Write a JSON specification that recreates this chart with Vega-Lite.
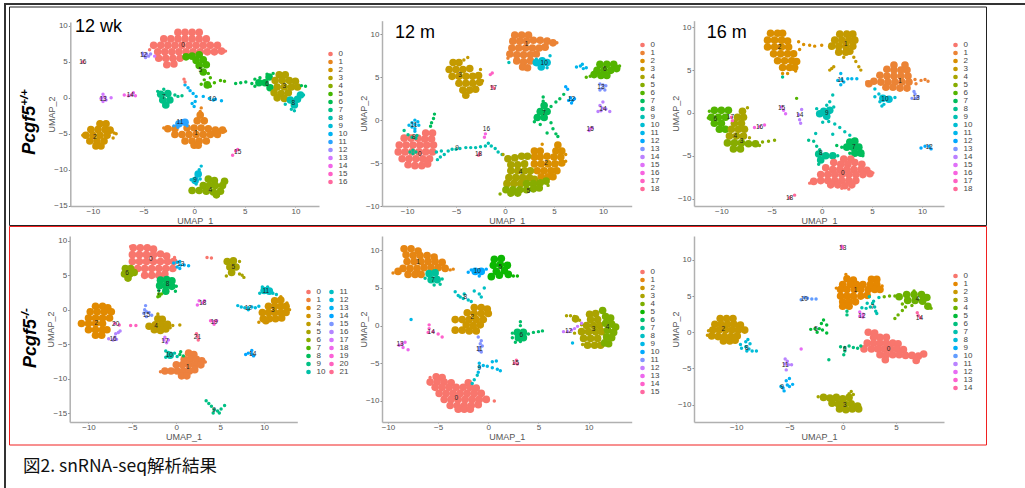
{"$schema":"https://vega.github.io/schema/vega-lite/v6.json","width":1025,"height":488,"autosize":"none","padding":0,"background":"white",
"config":{"view":{"stroke":null},"font":"Liberation Sans","axis":{"grid":false,"domainColor":"#b0b0b0","domainWidth":1.5,"tickColor":"#888888","tickSize":2,"labelFontSize":8,"labelColor":"#555555","labelPadding":1,"labelOverlap":false,"labelBound":false,"labelFlush":false,"titleFontSize":9,"titleColor":"#555555","titleFontWeight":"normal"},"axisX":{"tickSize":1,"labelPadding":0,"titleY":10},"axisY":{"titleX":-14},"legend":{"padding":0,"symbolSize":22,"symbolType":"circle","labelFontSize":8,"labelColor":"#444444","rowPadding":-0.28,"labelOffset":4,"columnPadding":2,"symbolStrokeWidth":0}},
"datasets":{
"frame":[{"left":0,"right":1,"bottom":0,"top":1}],
"a":[{"c":0,"x":-1.6,"y":9.1},{"c":0,"x":-0.9,"y":9.1},{"c":0,"x":-0.2,"y":9.1},{"c":0,"x":0.5,"y":9.1},{"c":0,"x":-3,"y":8.2},{"c":0,"x":-2.3,"y":8.2},{"c":0,"x":-1.6,"y":8.2},{"c":0,"x":-0.9,"y":8.2},{"c":0,"x":-0.2,"y":8.2},{"c":0,"x":0.5,"y":8.2},{"c":0,"x":1.2,"y":8.2},{"c":0,"x":-4,"y":7.3},{"c":0,"x":-3.3,"y":7.3},{"c":0,"x":-2.6,"y":7.3},{"c":0,"x":-1.9,"y":7.3},{"c":0,"x":-1.2,"y":7.3},{"c":0,"x":-0.5,"y":7.3},{"c":0,"x":0.2,"y":7.3},{"c":0,"x":0.9,"y":7.3},{"c":0,"x":1.6,"y":7.3},{"c":0,"x":2.3,"y":7.3},{"c":0,"x":-3.6,"y":6.4},{"c":0,"x":-2.9,"y":6.4},{"c":0,"x":-2.2,"y":6.4},{"c":0,"x":-1.5,"y":6.4},{"c":0,"x":-0.8,"y":6.4},{"c":0,"x":-0.1,"y":6.4},{"c":0,"x":0.6,"y":6.4},{"c":0,"x":1.3,"y":6.4},{"c":0,"x":2,"y":6.4},{"c":0,"x":2.7,"y":6.5},{"c":0,"x":-3.5,"y":5.5},{"c":0,"x":-2.8,"y":5.5},{"c":0,"x":-2.1,"y":5.5},{"c":0,"x":-1.4,"y":5.5},{"c":0,"x":-2.7,"y":4.6},{"c":0,"x":-2,"y":4.7},{"c":5,"x":-0.8,"y":5.7},{"c":5,"x":-0.2,"y":5.8},{"c":5,"x":0.5,"y":6},{"c":5,"x":0.2,"y":5.2},{"c":5,"x":0.9,"y":5.3},{"c":5,"x":0.5,"y":4.5},{"c":5,"x":1.2,"y":4.6},{"c":5,"x":0.9,"y":3.6},{"c":5,"x":1.3,"y":1.8},{"c":3,"x":8.4,"y":3.2},{"c":3,"x":9,"y":3.2},{"c":6,"x":7,"y":2.1},{"c":6,"x":6.4,"y":2.1},{"c":6,"x":7.4,"y":2.9},{"c":6,"x":7.5,"y":1.4},{"c":3,"x":8,"y":2.4},{"c":3,"x":8.7,"y":2.4},{"c":3,"x":9.4,"y":2.4},{"c":3,"x":10,"y":2.3},{"c":3,"x":8.2,"y":1.5},{"c":3,"x":8.9,"y":1.5},{"c":3,"x":9.6,"y":1.5},{"c":3,"x":10.2,"y":1.5},{"c":3,"x":7.9,"y":0.7},{"c":3,"x":8.6,"y":0.6},{"c":3,"x":9.3,"y":0.7},{"c":3,"x":8.2,"y":0},{"c":3,"x":8.9,"y":-0.1},{"c":8,"x":9.5,"y":-0.3},{"c":8,"x":10.2,"y":-0.2},{"c":8,"x":9.9,"y":-1},{"c":8,"x":10.5,"y":0.4},{"c":7,"x":-3.3,"y":0.5},{"c":7,"x":-2.6,"y":0.6},{"c":7,"x":-3.1,"y":-0.3},{"c":7,"x":-2.4,"y":-0.3},{"c":7,"x":-2.8,"y":-1},{"c":9,"x":0.4,"y":-10.6},{"c":9,"x":0.1,"y":-11.5},{"c":4,"x":1.4,"y":-11.3},{"c":4,"x":2,"y":-11.5},{"c":4,"x":3,"y":-11.6},{"c":4,"x":0.9,"y":-12.2},{"c":4,"x":1.5,"y":-12.2},{"c":4,"x":2.1,"y":-12.2},{"c":4,"x":2.8,"y":-12.2},{"c":4,"x":-0.2,"y":-12.9},{"c":4,"x":0.5,"y":-12.9},{"c":4,"x":1.2,"y":-13},{"c":4,"x":1.9,"y":-13.1},{"c":4,"x":2.6,"y":-13},{"c":4,"x":2.2,"y":-13.5},{"c":1,"x":0.6,"y":-2.4},{"c":1,"x":0.3,"y":-3.2},{"c":1,"x":1,"y":-3.2},{"c":1,"x":-2.6,"y":-4.3},{"c":1,"x":-1.9,"y":-4.3},{"c":1,"x":-0.7,"y":-4.2},{"c":1,"x":0,"y":-4.2},{"c":1,"x":0.7,"y":-4.2},{"c":1,"x":1.4,"y":-4.3},{"c":1,"x":2.1,"y":-4.5},{"c":1,"x":2.8,"y":-4.5},{"c":1,"x":-1.9,"y":-5.1},{"c":1,"x":-1.2,"y":-5.1},{"c":1,"x":-0.5,"y":-5.1},{"c":1,"x":0.2,"y":-5.1},{"c":1,"x":0.9,"y":-5.1},{"c":1,"x":1.6,"y":-5.1},{"c":1,"x":2.3,"y":-5.1},{"c":1,"x":-0.9,"y":-6},{"c":1,"x":-0.2,"y":-6},{"c":1,"x":0.5,"y":-6},{"c":1,"x":1.2,"y":-6},{"c":1,"x":0,"y":-6.6},{"c":1,"x":0.4,"y":-6.6},{"c":11,"x":-1.5,"y":-3.6},{"c":11,"x":-0.9,"y":-3.4},{"c":2,"x":-9.3,"y":-3.6},{"c":2,"x":-8.7,"y":-3.6},{"c":2,"x":-10.2,"y":-4.4},{"c":2,"x":-9.5,"y":-4.4},{"c":2,"x":-8.8,"y":-4.4},{"c":2,"x":-8.3,"y":-4.5},{"c":2,"x":-10.7,"y":-5.2},{"c":2,"x":-10,"y":-5.2},{"c":2,"x":-9.3,"y":-5.2},{"c":2,"x":-8.6,"y":-5.2},{"c":2,"x":-10.3,"y":-6},{"c":2,"x":-9.6,"y":-6},{"c":2,"x":-8.9,"y":-6},{"c":2,"x":-9.7,"y":-6.7},{"c":2,"x":-9.2,"y":-6.7}],
"as":[{"c":12,"x":-5,"y":5.9},{"c":12,"x":-4.7,"y":6.1},{"c":12,"x":-4.5,"y":5.8},{"c":12,"x":-4.8,"y":5.6},{"c":12,"x":-4.3,"y":6.1},{"c":12,"x":-5.1,"y":6.2},{"c":13,"x":-3.9,"y":5.8},{"c":0,"x":-4.4,"y":6.7},{"c":0,"x":3.1,"y":6.5},{"c":5,"x":1.4,"y":3.4},{"c":5,"x":1.6,"y":2.8},{"c":5,"x":1,"y":2.5},{"c":5,"x":2,"y":2.1},{"c":5,"x":1.6,"y":1.6},{"c":5,"x":2.6,"y":2.4},{"c":5,"x":3,"y":2.3},{"c":5,"x":0.7,"y":1.9},{"c":6,"x":4.1,"y":2},{"c":6,"x":4.6,"y":2.1},{"c":6,"x":5.1,"y":2.2},{"c":6,"x":5.7,"y":2},{"c":6,"x":6,"y":2.6},{"c":6,"x":6.5,"y":2.8},{"c":6,"x":6,"y":1.6},{"c":6,"x":7.2,"y":3.3},{"c":6,"x":7.8,"y":3.4},{"c":6,"x":10.6,"y":1.7},{"c":6,"x":11,"y":1.6},{"c":8,"x":9.6,"y":-1.6},{"c":8,"x":9.9,"y":-1.8},{"c":8,"x":10.8,"y":0.4},{"c":8,"x":9,"y":-0.9},{"c":7,"x":-3.6,"y":0.9},{"c":7,"x":-3,"y":1.2},{"c":7,"x":-1.9,"y":0.4},{"c":7,"x":-1.6,"y":0.2},{"c":7,"x":-1.2,"y":0.3},{"c":10,"x":-0.9,"y":1.8},{"c":10,"x":-0.6,"y":1.4},{"c":10,"x":-0.4,"y":1},{"c":10,"x":-0.1,"y":0.6},{"c":10,"x":0.2,"y":0.2},{"c":10,"x":0.1,"y":-0.5},{"c":10,"x":0,"y":-1.2},{"c":10,"x":-0.2,"y":-0.8},{"c":10,"x":0.9,"y":0.2},{"c":10,"x":1.5,"y":-0.1},{"c":10,"x":2.1,"y":-0.2},{"c":10,"x":2.7,"y":-0.4},{"c":10,"x":1.9,"y":-0.3},{"c":0,"x":-1,"y":2.6},{"c":0,"x":-0.9,"y":2.2},{"c":9,"x":0.7,"y":-9.5},{"c":9,"x":0.5,"y":-10},{"c":9,"x":0.2,"y":-11},{"c":9,"x":0.2,"y":-12},{"c":9,"x":-0.3,"y":-11.4},{"c":9,"x":0.6,"y":-11.3},{"c":11,"x":-2,"y":-3.9},{"c":11,"x":-1.6,"y":-4.1},{"c":11,"x":-1.2,"y":-3.2},{"c":11,"x":-0.7,"y":-3.9},{"c":1,"x":0.7,"y":-1.4},{"c":1,"x":0.6,"y":-1.9},{"c":1,"x":-3,"y":-4.2},{"c":1,"x":3.1,"y":-4.6},{"c":2,"x":-7.9,"y":-4.9},{"c":2,"x":-8,"y":-5.6},{"c":2,"x":-7.7,"y":-5},{"c":2,"x":-11,"y":-5.2},{"c":13,"x":-9,"y":0.5},{"c":13,"x":-9.1,"y":0},{"c":13,"x":-8.8,"y":0.1},{"c":13,"x":-9,"y":-0.5},{"c":13,"x":-8.7,"y":-0.3},{"c":13,"x":-8.2,"y":0},{"c":13,"x":-9.2,"y":-0.1},{"c":14,"x":-6.9,"y":0.4},{"c":14,"x":-6.5,"y":0.3},{"c":14,"x":-6.2,"y":0.4},{"c":14,"x":-6,"y":0.7},{"c":14,"x":-5.8,"y":0.3},{"c":15,"x":4.1,"y":-7.4},{"c":15,"x":4.3,"y":-7.2},{"c":15,"x":3.8,"y":-8},{"c":16,"x":-11,"y":5}],
"b":[{"c":1,"x":1,"y":9.9},{"c":1,"x":1.7,"y":9.9},{"c":1,"x":2.4,"y":9.9},{"c":1,"x":0.8,"y":9.2},{"c":1,"x":1.5,"y":9.2},{"c":1,"x":2.2,"y":9.2},{"c":1,"x":2.9,"y":9.3},{"c":1,"x":3.6,"y":9.3},{"c":1,"x":4.3,"y":9.2},{"c":1,"x":4.9,"y":9},{"c":1,"x":0.7,"y":8.4},{"c":1,"x":1.4,"y":8.4},{"c":1,"x":2.1,"y":8.4},{"c":1,"x":2.8,"y":8.4},{"c":1,"x":3.5,"y":8.4},{"c":1,"x":4.1,"y":8.5},{"c":1,"x":0.5,"y":7.7},{"c":1,"x":1.2,"y":7.6},{"c":1,"x":1.9,"y":7.6},{"c":1,"x":2.6,"y":7.6},{"c":1,"x":3.2,"y":7.7},{"c":1,"x":1.2,"y":6.9},{"c":1,"x":1.9,"y":6.8},{"c":1,"x":2.6,"y":6.9},{"c":1,"x":1.8,"y":6.2},{"c":1,"x":2.3,"y":6.1},{"c":10,"x":3.2,"y":6.7},{"c":10,"x":3.8,"y":6.9},{"c":10,"x":4.3,"y":6.7},{"c":10,"x":3.7,"y":6.2},{"c":3,"x":-5.3,"y":6.7},{"c":3,"x":-4.7,"y":6.7},{"c":3,"x":-5.7,"y":5.9},{"c":3,"x":-5,"y":5.9},{"c":3,"x":-4.3,"y":5.9},{"c":3,"x":-3.6,"y":6},{"c":3,"x":-5.4,"y":5.1},{"c":3,"x":-4.7,"y":5.1},{"c":3,"x":-4,"y":5.1},{"c":3,"x":-3.3,"y":5.1},{"c":3,"x":-2.7,"y":5.2},{"c":3,"x":-4.7,"y":4.3},{"c":3,"x":-4,"y":4.3},{"c":3,"x":-3.3,"y":4.3},{"c":3,"x":-2.6,"y":4.4},{"c":3,"x":-4.3,"y":3.5},{"c":3,"x":-3.6,"y":3.5},{"c":3,"x":-3,"y":3.6},{"c":3,"x":-4,"y":2.9},{"c":6,"x":9.7,"y":6.5},{"c":6,"x":10.4,"y":6.5},{"c":6,"x":11.1,"y":6.5},{"c":6,"x":9.4,"y":5.8},{"c":6,"x":10.1,"y":5.8},{"c":6,"x":10.8,"y":5.8},{"c":6,"x":11.4,"y":6},{"c":6,"x":9.1,"y":5.3},{"c":6,"x":9.8,"y":5.2},{"c":6,"x":10.4,"y":5.2},{"c":7,"x":4,"y":1.7},{"c":7,"x":3.6,"y":1},{"c":7,"x":4.3,"y":1},{"c":7,"x":3.3,"y":0.3},{"c":7,"x":4,"y":0.3},{"c":0,"x":-8.1,"y":-1.5},{"c":0,"x":-7.4,"y":-1.5},{"c":0,"x":-10.3,"y":-2.1},{"c":0,"x":-9.6,"y":-2.1},{"c":0,"x":-8.9,"y":-2.1},{"c":0,"x":-8.2,"y":-2.2},{"c":0,"x":-7.5,"y":-2.2},{"c":0,"x":-10.8,"y":-2.9},{"c":0,"x":-10.1,"y":-2.9},{"c":0,"x":-9.4,"y":-2.9},{"c":0,"x":-8.7,"y":-2.9},{"c":0,"x":-8,"y":-2.9},{"c":0,"x":-7.3,"y":-2.9},{"c":0,"x":-10.9,"y":-3.7},{"c":0,"x":-10.2,"y":-3.7},{"c":0,"x":-9.5,"y":-3.7},{"c":0,"x":-8.8,"y":-3.7},{"c":0,"x":-8.1,"y":-3.7},{"c":0,"x":-7.4,"y":-3.7},{"c":0,"x":-10.5,"y":-4.5},{"c":0,"x":-9.8,"y":-4.5},{"c":0,"x":-9.1,"y":-4.5},{"c":0,"x":-8.4,"y":-4.5},{"c":0,"x":-7.7,"y":-4.5},{"c":0,"x":-9.9,"y":-5.2},{"c":0,"x":-9.2,"y":-5.3},{"c":0,"x":-8.5,"y":-5.3},{"c":0,"x":-7.9,"y":-5.1},{"c":2,"x":5.4,"y":-2.9},{"c":2,"x":3,"y":-3.6},{"c":2,"x":3.6,"y":-3.6},{"c":2,"x":5.2,"y":-3.6},{"c":2,"x":5.8,"y":-3.6},{"c":2,"x":3,"y":-4.3},{"c":2,"x":3.6,"y":-4.3},{"c":2,"x":4.3,"y":-4.2},{"c":2,"x":5,"y":-4.3},{"c":2,"x":5.7,"y":-4.3},{"c":2,"x":3,"y":-5.1},{"c":2,"x":3.7,"y":-5.1},{"c":2,"x":4.4,"y":-5.1},{"c":2,"x":5.1,"y":-5.1},{"c":2,"x":5.8,"y":-5},{"c":2,"x":3.3,"y":-5.9},{"c":2,"x":4,"y":-5.9},{"c":2,"x":4.7,"y":-5.9},{"c":2,"x":5.3,"y":-5.9},{"c":2,"x":3.7,"y":-6.6},{"c":2,"x":4.4,"y":-6.6},{"c":2,"x":4.9,"y":-6.6},{"c":4,"x":0.3,"y":-4.5},{"c":4,"x":1,"y":-4.4},{"c":4,"x":1.7,"y":-4.2},{"c":4,"x":2.3,"y":-4.2},{"c":4,"x":0.6,"y":-5.2},{"c":4,"x":1.3,"y":-5.2},{"c":4,"x":2,"y":-5.1},{"c":4,"x":0.6,"y":-5.9},{"c":4,"x":1.3,"y":-5.9},{"c":4,"x":2,"y":-5.9},{"c":4,"x":2.6,"y":-5.9},{"c":4,"x":0.4,"y":-6.7},{"c":4,"x":1.1,"y":-6.7},{"c":4,"x":1.8,"y":-6.7},{"c":4,"x":2.5,"y":-6.7},{"c":4,"x":3,"y":-6.9},{"c":4,"x":0.2,"y":-7.4},{"c":4,"x":0.9,"y":-7.4},{"c":4,"x":1.6,"y":-7.4},{"c":5,"x":2.2,"y":-7.4},{"c":5,"x":2.9,"y":-7.4},{"c":5,"x":3.6,"y":-7.3},{"c":5,"x":4.2,"y":-7.1},{"c":5,"x":0.1,"y":-8.1},{"c":5,"x":0.8,"y":-8.1},{"c":5,"x":1.5,"y":-8.1},{"c":5,"x":2.2,"y":-8.1},{"c":5,"x":2.9,"y":-8},{"c":5,"x":3.5,"y":-7.9},{"c":5,"x":0.6,"y":-8.5},{"c":5,"x":1.3,"y":-8.5}],
"bs":[{"c":1,"x":5.3,"y":9},{"c":1,"x":0.3,"y":7.2},{"c":9,"x":0.4,"y":6.7},{"c":10,"x":4.6,"y":7.5},{"c":10,"x":3.2,"y":7.1},{"c":10,"x":4.3,"y":6.1},{"c":3,"x":-4.2,"y":7},{"c":3,"x":-3.8,"y":7.3},{"c":3,"x":-2.5,"y":5.9},{"c":3,"x":-2.3,"y":4.6},{"c":6,"x":8.7,"y":5.1},{"c":6,"x":8.3,"y":5},{"c":6,"x":11.7,"y":6.3},{"c":11,"x":7.3,"y":6.2},{"c":11,"x":7.7,"y":6.3},{"c":11,"x":8,"y":6},{"c":11,"x":8.3,"y":6.1},{"c":11,"x":7.9,"y":6.5},{"c":13,"x":9.7,"y":4.2},{"c":13,"x":10,"y":4.1},{"c":13,"x":10.3,"y":4},{"c":13,"x":9.9,"y":3.7},{"c":13,"x":10.2,"y":3.5},{"c":13,"x":9.7,"y":3.5},{"c":14,"x":9.7,"y":1.7},{"c":14,"x":10,"y":1.4},{"c":14,"x":10.3,"y":1.3},{"c":14,"x":10.7,"y":1},{"c":14,"x":9.5,"y":1},{"c":14,"x":9.8,"y":1.1},{"c":14,"x":10,"y":2.1},{"c":12,"x":6.7,"y":2.6},{"c":12,"x":6.9,"y":2.3},{"c":12,"x":6.5,"y":2.3},{"c":12,"x":7.1,"y":2.5},{"c":12,"x":6.8,"y":2},{"c":12,"x":6.4,"y":3.6},{"c":12,"x":6.2,"y":3.9},{"c":15,"x":8.7,"y":-1},{"c":15,"x":8.9,"y":-0.9},{"c":15,"x":8.6,"y":-1.2},{"c":7,"x":3.9,"y":2.7},{"c":7,"x":3.9,"y":2.2},{"c":7,"x":4.7,"y":1.6},{"c":7,"x":5.2,"y":2.1},{"c":7,"x":5.6,"y":2.5},{"c":7,"x":6,"y":3},{"c":7,"x":3,"y":-0.2},{"c":7,"x":3.6,"y":-0.5},{"c":7,"x":4.7,"y":-0.3},{"c":7,"x":4.9,"y":-1},{"c":7,"x":5.2,"y":-1.6},{"c":7,"x":5.4,"y":-1.9},{"c":7,"x":4.3,"y":-1.5},{"c":7,"x":-7.2,"y":0.7},{"c":7,"x":-7.3,"y":0.2},{"c":7,"x":-7.5,"y":-0.3},{"c":7,"x":-7.6,"y":-0.7},{"c":16,"x":-2,"y":-1.6},{"c":16,"x":-2.1,"y":-2},{"c":17,"x":-1.3,"y":5.5},{"c":17,"x":-1.5,"y":5.3},{"c":18,"x":-1.3,"y":3.9},{"c":18,"x":-1.1,"y":3.7},{"c":9,"x":-7,"y":-3.7},{"c":9,"x":-6.5,"y":-3.6},{"c":9,"x":-6.2,"y":-4},{"c":9,"x":-5.8,"y":-3.6},{"c":9,"x":-5.4,"y":-3.4},{"c":9,"x":-5,"y":-3.4},{"c":9,"x":-4.6,"y":-3.3},{"c":9,"x":-6.6,"y":-4.3},{"c":9,"x":-6.9,"y":-4.6},{"c":9,"x":-4,"y":-3.2},{"c":9,"x":-3.5,"y":-3.2},{"c":9,"x":-3,"y":-3.2},{"c":9,"x":-2.5,"y":-3.1},{"c":9,"x":-2,"y":-3},{"c":9,"x":-1.7,"y":-2.7},{"c":9,"x":-1.4,"y":-3},{"c":9,"x":-1,"y":-3.3},{"c":9,"x":-0.7,"y":-3.7},{"c":9,"x":-0.3,"y":-4},{"c":18,"x":-2.7,"y":-4.1},{"c":18,"x":-2.6,"y":-3.9},{"c":8,"x":-10.3,"y":-1.2},{"c":8,"x":-9.9,"y":-1.7},{"c":8,"x":-9.5,"y":-2},{"c":8,"x":-9.1,"y":-2.1},{"c":8,"x":-9,"y":-1.8},{"c":8,"x":-9.7,"y":-3.7},{"c":8,"x":-9.4,"y":-3.5},{"c":8,"x":-9.1,"y":-3.7},{"c":8,"x":-9.4,"y":-3.9},{"c":11,"x":-9.8,"y":-0.6},{"c":11,"x":-9.5,"y":-0.3},{"c":11,"x":-9.2,"y":0},{"c":11,"x":-9.2,"y":-0.5},{"c":11,"x":-8.8,"y":-0.6},{"c":11,"x":-9.5,"y":-0.8},{"c":11,"x":-9.2,"y":-1},{"c":11,"x":-8.9,"y":-0.2},{"c":11,"x":-9.2,"y":-1.3},{"c":2,"x":3.8,"y":-2.8},{"c":2,"x":6.2,"y":-4},{"c":2,"x":6.2,"y":-4.8},{"c":5,"x":-0.5,"y":-8.6},{"c":5,"x":4.4,"y":-7.6},{"c":4,"x":-0.2,"y":-4}],
"c":[{"c":2,"x":-5.1,"y":9.3},{"c":2,"x":-4.4,"y":9.3},{"c":2,"x":-3.9,"y":9.3},{"c":2,"x":-5.4,"y":8.5},{"c":2,"x":-4.7,"y":8.5},{"c":2,"x":-4,"y":8.5},{"c":2,"x":-3.4,"y":8.4},{"c":2,"x":-5.4,"y":7.7},{"c":2,"x":-4.7,"y":7.7},{"c":2,"x":-4,"y":7.7},{"c":2,"x":-3.3,"y":7.7},{"c":2,"x":-4.8,"y":6.9},{"c":2,"x":-4.1,"y":6.9},{"c":2,"x":-3.4,"y":6.9},{"c":2,"x":-2.8,"y":6.9},{"c":2,"x":-4.4,"y":6.1},{"c":2,"x":-3.7,"y":6.1},{"c":2,"x":-3,"y":6.1},{"c":2,"x":-2.5,"y":6},{"c":2,"x":-3.9,"y":5.3},{"c":2,"x":-3.2,"y":5.3},{"c":2,"x":-2.7,"y":5.3},{"c":3,"x":1.8,"y":9.2},{"c":3,"x":2.5,"y":9.2},{"c":3,"x":3.1,"y":9.2},{"c":3,"x":1.3,"y":8.5},{"c":3,"x":2,"y":8.5},{"c":3,"x":2.7,"y":8.5},{"c":3,"x":3.3,"y":8.5},{"c":3,"x":1,"y":7.8},{"c":3,"x":1.7,"y":7.8},{"c":3,"x":2.4,"y":7.8},{"c":3,"x":3.1,"y":7.8},{"c":3,"x":1.7,"y":7.1},{"c":3,"x":2.4,"y":7.1},{"c":3,"x":2.8,"y":7.2},{"c":1,"x":7.2,"y":5.6},{"c":1,"x":8.3,"y":5.6},{"c":1,"x":6.5,"y":5.1},{"c":1,"x":7.2,"y":5},{"c":1,"x":7.9,"y":5},{"c":1,"x":8.5,"y":5},{"c":1,"x":5.8,"y":4.4},{"c":1,"x":6.5,"y":4.3},{"c":1,"x":7.2,"y":4.3},{"c":1,"x":7.9,"y":4.3},{"c":1,"x":8.6,"y":4.3},{"c":1,"x":5.2,"y":3.7},{"c":1,"x":5.9,"y":3.6},{"c":1,"x":6.6,"y":3.6},{"c":1,"x":7.3,"y":3.6},{"c":1,"x":8,"y":3.6},{"c":1,"x":8.7,"y":3.6},{"c":1,"x":4.7,"y":3.4},{"c":1,"x":6.4,"y":3},{"c":1,"x":7.1,"y":3},{"c":1,"x":7.8,"y":2.9},{"c":1,"x":8.5,"y":2.9},{"c":10,"x":6.1,"y":1.7},{"c":10,"x":6.7,"y":1.6},{"c":6,"x":-10.7,"y":0.3},{"c":6,"x":-10,"y":0.3},{"c":6,"x":-9.3,"y":0.3},{"c":6,"x":-11,"y":-0.5},{"c":6,"x":-10.3,"y":-0.5},{"c":6,"x":-9.6,"y":-0.5},{"c":6,"x":-10.7,"y":-1.2},{"c":6,"x":-10,"y":-1.2},{"c":6,"x":-10.2,"y":-1.9},{"c":6,"x":-9.6,"y":-1.9},{"c":4,"x":-7.9,"y":0.2},{"c":4,"x":-8.4,"y":-0.5},{"c":4,"x":-7.8,"y":-0.5},{"c":4,"x":-8.7,"y":-1.2},{"c":4,"x":-8,"y":-1.2},{"c":4,"x":-9,"y":-1.9},{"c":4,"x":-8.3,"y":-1.9},{"c":4,"x":-7.7,"y":-1.9},{"c":4,"x":-9.2,"y":-2.7},{"c":4,"x":-8.5,"y":-2.7},{"c":4,"x":-7.8,"y":-2.7},{"c":5,"x":-9.4,"y":-3.5},{"c":5,"x":-8.7,"y":-3.5},{"c":5,"x":-8,"y":-3.5},{"c":5,"x":-7.3,"y":-3.6},{"c":5,"x":-6.6,"y":-3.6},{"c":5,"x":-8.8,"y":-4.2},{"c":5,"x":-8.1,"y":-4.2},{"c":9,"x":0.2,"y":0.2},{"c":9,"x":0.8,"y":0.3},{"c":9,"x":-0.2,"y":-0.1},{"c":9,"x":0.5,"y":-0.4},{"c":7,"x":2.8,"y":-3.4},{"c":7,"x":3.3,"y":-3.3},{"c":7,"x":2.5,"y":-4},{"c":7,"x":3.1,"y":-4},{"c":7,"x":3.7,"y":-4},{"c":7,"x":3.3,"y":-4.7},{"c":7,"x":3.9,"y":-4.7},{"c":8,"x":-0.3,"y":-4.8},{"c":8,"x":0.4,"y":-5},{"c":8,"x":1.1,"y":-5},{"c":8,"x":-0.1,"y":-5.5},{"c":0,"x":2.2,"y":-5.4},{"c":0,"x":2.9,"y":-5.4},{"c":0,"x":1.2,"y":-5.8},{"c":0,"x":1.9,"y":-6},{"c":0,"x":2.6,"y":-6},{"c":0,"x":3.3,"y":-5.8},{"c":0,"x":4,"y":-6},{"c":0,"x":0.4,"y":-6.4},{"c":0,"x":1.1,"y":-6.6},{"c":0,"x":1.8,"y":-6.6},{"c":0,"x":2.5,"y":-6.6},{"c":0,"x":3.2,"y":-6.6},{"c":0,"x":3.9,"y":-6.6},{"c":0,"x":4.5,"y":-6.7},{"c":0,"x":-0.1,"y":-7.2},{"c":0,"x":0.6,"y":-7.2},{"c":0,"x":1.3,"y":-7.2},{"c":0,"x":2,"y":-7.2},{"c":0,"x":2.7,"y":-7.2},{"c":0,"x":3.4,"y":-7.2},{"c":0,"x":4.1,"y":-7.2},{"c":0,"x":4.8,"y":-7.1},{"c":0,"x":-0.8,"y":-8},{"c":0,"x":-0.1,"y":-7.9},{"c":0,"x":0.6,"y":-7.9},{"c":0,"x":1.3,"y":-7.9},{"c":0,"x":2,"y":-7.9},{"c":0,"x":2.7,"y":-7.9},{"c":0,"x":3.4,"y":-7.9},{"c":0,"x":0.9,"y":-8.4},{"c":0,"x":1.6,"y":-8.4},{"c":0,"x":2.3,"y":-8.5},{"c":0,"x":3,"y":-8.4}],
"cs":[{"c":2,"x":-2.3,"y":8.3},{"c":2,"x":-1.8,"y":8},{"c":2,"x":-1.2,"y":7.9},{"c":2,"x":-0.7,"y":7.8},{"c":2,"x":0,"y":7.9},{"c":2,"x":-2.2,"y":7.4},{"c":2,"x":-3.9,"y":4.6},{"c":2,"x":-3.4,"y":4.6},{"c":2,"x":-2.6,"y":4.9},{"c":8,"x":-3.9,"y":4.2},{"c":3,"x":2.2,"y":6.5},{"c":3,"x":3.2,"y":6.5},{"c":3,"x":3.4,"y":6},{"c":3,"x":3.7,"y":5.4},{"c":3,"x":3.9,"y":5},{"c":3,"x":1.2,"y":5.4},{"c":3,"x":1,"y":5.2},{"c":3,"x":0.8,"y":5},{"c":1,"x":9.3,"y":3.9},{"c":1,"x":9.9,"y":3.8},{"c":1,"x":10.3,"y":3.9},{"c":1,"x":10.6,"y":3.7},{"c":1,"x":9.4,"y":3.4},{"c":1,"x":4.5,"y":3.6},{"c":10,"x":5.3,"y":2.8},{"c":10,"x":5.7,"y":2.2},{"c":10,"x":5.3,"y":1.9},{"c":10,"x":5.8,"y":1.3},{"c":10,"x":6.2,"y":1},{"c":10,"x":6,"y":0.8},{"c":10,"x":7.3,"y":1.8},{"c":13,"x":9.3,"y":2.2},{"c":13,"x":9.4,"y":1.7},{"c":13,"x":9,"y":1.7},{"c":13,"x":9.2,"y":2.5},{"c":13,"x":9.6,"y":1.9},{"c":11,"x":1.6,"y":3.8},{"c":11,"x":2,"y":3.9},{"c":11,"x":2.2,"y":3.6},{"c":11,"x":1.9,"y":3.3},{"c":11,"x":1.9,"y":4.6},{"c":11,"x":2.6,"y":4},{"c":11,"x":3,"y":4},{"c":11,"x":3.5,"y":4},{"c":12,"x":9.9,"y":-4.1},{"c":12,"x":10.3,"y":-3.9},{"c":12,"x":10.7,"y":-3.9},{"c":12,"x":10.9,"y":-4.2},{"c":14,"x":-2.3,"y":-0.2},{"c":14,"x":-2.2,"y":-0.8},{"c":14,"x":-2,"y":0.4},{"c":14,"x":-2.1,"y":-1.2},{"c":15,"x":-4,"y":0.7},{"c":15,"x":-3.8,"y":0.3},{"c":15,"x":-3.6,"y":-0.1},{"c":16,"x":-6.7,"y":-1.7},{"c":16,"x":-6.2,"y":-1.6},{"c":16,"x":-5.7,"y":-1.4},{"c":17,"x":-9,"y":-0.5},{"c":17,"x":-8.9,"y":-0.9},{"c":18,"x":-3.2,"y":-9.9},{"c":18,"x":-2.7,"y":-9.6},{"c":5,"x":-5.9,"y":-3.4},{"c":5,"x":-5.3,"y":-3.3},{"c":5,"x":-4.7,"y":-3.2},{"c":5,"x":-6.2,"y":-3.8},{"c":9,"x":1.1,"y":2.1},{"c":9,"x":0.8,"y":1.3},{"c":9,"x":0.5,"y":0.9},{"c":9,"x":1.2,"y":0.7},{"c":9,"x":-0.5,"y":0.5},{"c":9,"x":0.1,"y":-1.1},{"c":9,"x":0.7,"y":-1},{"c":9,"x":1.3,"y":-1.3},{"c":9,"x":1.8,"y":-1.7},{"c":9,"x":2.3,"y":-2.2},{"c":9,"x":2.8,"y":-2.6},{"c":9,"x":1.1,"y":-2.5},{"c":9,"x":-0.6,"y":-2.4},{"c":7,"x":2,"y":-4},{"c":7,"x":1.5,"y":-3.8},{"c":7,"x":4.1,"y":-5},{"c":7,"x":2.8,"y":-4.7},{"c":8,"x":-1.3,"y":-3.2},{"c":8,"x":-0.8,"y":-3.3},{"c":8,"x":-0.5,"y":-3.9},{"c":8,"x":-0.2,"y":-4.3},{"c":8,"x":-0.3,"y":-6},{"c":8,"x":1.6,"y":-5},{"c":0,"x":-1.2,"y":-8.2},{"c":0,"x":5.1,"y":-7},{"c":0,"x":2,"y":-8.8},{"c":0,"x":2.7,"y":-8.9},{"c":6,"x":-2.5,"y":1.7},{"c":6,"x":-11.2,"y":0.2},{"c":6,"x":-11.3,"y":-0.6},{"c":4,"x":-7.4,"y":0.6},{"c":4,"x":-7.2,"y":-2.9}],
"d":[{"c":0,"x":-4.9,"y":9},{"c":0,"x":-4.1,"y":9},{"c":0,"x":-3.3,"y":9},{"c":0,"x":-2.6,"y":8.8},{"c":0,"x":-5,"y":8},{"c":0,"x":-4.2,"y":8},{"c":0,"x":-3.4,"y":8},{"c":0,"x":-2.6,"y":8},{"c":0,"x":-1.8,"y":8.1},{"c":0,"x":-1.1,"y":7.8},{"c":0,"x":-5,"y":7},{"c":0,"x":-4.2,"y":7},{"c":0,"x":-3.4,"y":7},{"c":0,"x":-2.6,"y":7},{"c":0,"x":-1.8,"y":7},{"c":0,"x":-1,"y":7},{"c":0,"x":-0.3,"y":7},{"c":0,"x":-4.4,"y":6},{"c":0,"x":-3.6,"y":6},{"c":0,"x":-2.8,"y":6},{"c":0,"x":-2,"y":6},{"c":0,"x":-1.2,"y":6},{"c":0,"x":-0.4,"y":6},{"c":0,"x":-3.6,"y":5},{"c":0,"x":-2.8,"y":5},{"c":0,"x":-2,"y":5},{"c":0,"x":-1.3,"y":5.2},{"c":6,"x":-5.8,"y":6},{"c":6,"x":-5.2,"y":6},{"c":6,"x":-5.9,"y":5.2},{"c":6,"x":-5.3,"y":5.2},{"c":6,"x":-4.8,"y":5.4},{"c":6,"x":-5.5,"y":4.6},{"c":8,"x":-1.8,"y":4.3},{"c":8,"x":-1.1,"y":4.4},{"c":8,"x":-0.5,"y":4.2},{"c":8,"x":-1.9,"y":3.5},{"c":8,"x":-1.2,"y":3.5},{"c":8,"x":-0.5,"y":3.4},{"c":8,"x":-1.2,"y":2.7},{"c":5,"x":5.8,"y":7},{"c":5,"x":6.5,"y":7.1},{"c":5,"x":6.1,"y":6.2},{"c":5,"x":6.8,"y":6.2},{"c":5,"x":6.3,"y":5.4},{"c":11,"x":10,"y":2.8},{"c":11,"x":10.6,"y":2.7},{"c":3,"x":11.2,"y":1.3},{"c":3,"x":11.9,"y":1.4},{"c":3,"x":10.5,"y":0.5},{"c":3,"x":11.2,"y":0.5},{"c":3,"x":11.9,"y":0.5},{"c":3,"x":12.5,"y":0.5},{"c":3,"x":9.8,"y":-0.4},{"c":3,"x":10.5,"y":-0.4},{"c":3,"x":11.2,"y":-0.4},{"c":3,"x":11.9,"y":-0.4},{"c":3,"x":12.5,"y":-0.4},{"c":3,"x":9.9,"y":-1.3},{"c":3,"x":10.6,"y":-1.3},{"c":3,"x":11.3,"y":-1.3},{"c":3,"x":12,"y":-1.2},{"c":3,"x":10.2,"y":-1.6},{"c":2,"x":-9.2,"y":0.5},{"c":2,"x":-8.4,"y":0.5},{"c":2,"x":-7.8,"y":0.3},{"c":2,"x":-9.8,"y":-0.3},{"c":2,"x":-9,"y":-0.3},{"c":2,"x":-8.2,"y":-0.3},{"c":2,"x":-7.4,"y":-0.3},{"c":2,"x":-10,"y":-1.2},{"c":2,"x":-9.2,"y":-1.2},{"c":2,"x":-8.4,"y":-1.2},{"c":2,"x":-7.6,"y":-1.2},{"c":2,"x":-10.8,"y":-2},{"c":2,"x":-10,"y":-2},{"c":2,"x":-9.2,"y":-2},{"c":2,"x":-8.4,"y":-2},{"c":2,"x":-10,"y":-2.9},{"c":2,"x":-9.2,"y":-2.9},{"c":2,"x":-8.4,"y":-2.9},{"c":2,"x":-7.9,"y":-2.9},{"c":2,"x":-9.2,"y":-3.7},{"c":2,"x":-8.5,"y":-3.7},{"c":4,"x":-2.1,"y":-1.3},{"c":4,"x":-1.6,"y":-1.4},{"c":4,"x":-3.1,"y":-2.4},{"c":4,"x":-2.4,"y":-2.2},{"c":4,"x":-1.7,"y":-2.2},{"c":4,"x":-1,"y":-2.1},{"c":4,"x":-2.5,"y":-2.9},{"c":4,"x":-1.8,"y":-3},{"c":4,"x":-1.2,"y":-2.8},{"c":1,"x":1.4,"y":-6.3},{"c":1,"x":2,"y":-6.5},{"c":1,"x":0.9,"y":-7.2},{"c":1,"x":1.6,"y":-7.2},{"c":1,"x":2.3,"y":-7.2},{"c":1,"x":2.9,"y":-7.4},{"c":1,"x":0,"y":-8},{"c":1,"x":0.7,"y":-8},{"c":1,"x":1.4,"y":-8},{"c":1,"x":2.1,"y":-8},{"c":1,"x":2.8,"y":-8},{"c":1,"x":-1.3,"y":-8.9},{"c":1,"x":-0.6,"y":-8.9},{"c":1,"x":0.1,"y":-8.9},{"c":1,"x":0.8,"y":-8.9},{"c":1,"x":1.5,"y":-8.9},{"c":1,"x":2.1,"y":-8.7},{"c":1,"x":0.6,"y":-9.6},{"c":1,"x":1.2,"y":-9.6},{"c":10,"x":-0.7,"y":-6.6}],
"ds":[{"c":0,"x":-5.2,"y":9.2},{"c":0,"x":-0.2,"y":7.6},{"c":13,"x":-0.3,"y":6.8},{"c":13,"x":0.1,"y":6.9},{"c":13,"x":0.4,"y":7},{"c":13,"x":0.5,"y":6.5},{"c":13,"x":0.9,"y":6.5},{"c":13,"x":1.4,"y":6.4},{"c":13,"x":0.1,"y":6.2},{"c":13,"x":0.4,"y":6},{"c":8,"x":0,"y":3.4},{"c":8,"x":-0.1,"y":2.7},{"c":8,"x":-2,"y":2.8},{"c":7,"x":-2,"y":2.3},{"c":7,"x":-1.9,"y":2},{"c":7,"x":-1.7,"y":2.3},{"c":7,"x":-2.1,"y":1.9},{"c":5,"x":7.2,"y":5.2},{"c":5,"x":7.5,"y":5},{"c":5,"x":7.7,"y":4.7},{"c":5,"x":5.7,"y":4.9},{"c":5,"x":7.2,"y":7},{"c":11,"x":9.8,"y":3.3},{"c":11,"x":10.4,"y":3.3},{"c":11,"x":9.5,"y":2.4},{"c":11,"x":11,"y":2.4},{"c":11,"x":11.4,"y":2.2},{"c":12,"x":7,"y":0.6},{"c":12,"x":7.4,"y":0.4},{"c":12,"x":7.8,"y":0.3},{"c":12,"x":8.2,"y":0.3},{"c":12,"x":8.6,"y":0.4},{"c":12,"x":9,"y":0.3},{"c":12,"x":8.2,"y":0},{"c":12,"x":9.4,"y":0.5},{"c":3,"x":12.6,"y":1},{"c":3,"x":12.9,"y":0},{"c":3,"x":9.4,"y":-1.8},{"c":3,"x":11.9,"y":1.9},{"c":20,"x":-7,"y":-2},{"c":20,"x":-6.5,"y":-2.2},{"c":20,"x":-5.2,"y":-2.3},{"c":20,"x":-4.6,"y":-2.3},{"c":16,"x":-6.9,"y":-3.5},{"c":16,"x":-6.4,"y":-3.1},{"c":16,"x":-6.6,"y":-3.3},{"c":16,"x":-7.7,"y":-4.2},{"c":16,"x":-7.2,"y":-4.4},{"c":16,"x":-7,"y":-4},{"c":16,"x":-6.8,"y":-4.3},{"c":15,"x":-3.5,"y":0.6},{"c":15,"x":-3.7,"y":-0.5},{"c":15,"x":-3.4,"y":-0.3},{"c":15,"x":-3.1,"y":-0.4},{"c":15,"x":-3.4,"y":-1},{"c":15,"x":-2.8,"y":-0.8},{"c":15,"x":-3.6,"y":0},{"c":4,"x":-2.1,"y":-0.6},{"c":4,"x":-0.7,"y":-2.6},{"c":4,"x":-0.4,"y":-2.3},{"c":4,"x":0.4,"y":-2.2},{"c":17,"x":-1.4,"y":-4.4},{"c":17,"x":-1.1,"y":-4.8},{"c":17,"x":-1.3,"y":-4},{"c":17,"x":-0.9,"y":-4.4},{"c":18,"x":2.6,"y":1.3},{"c":18,"x":3,"y":1},{"c":18,"x":3.2,"y":1.3},{"c":18,"x":2.4,"y":0.7},{"c":19,"x":3.9,"y":-1.6},{"c":19,"x":4.3,"y":-1.7},{"c":19,"x":4.6,"y":-1.6},{"c":19,"x":4.3,"y":-2.1},{"c":21,"x":2.4,"y":-3.9},{"c":21,"x":2.5,"y":-4.4},{"c":21,"x":2.3,"y":-3.5},{"c":10,"x":-1.2,"y":-6},{"c":10,"x":-0.9,"y":-6.2},{"c":10,"x":-1.2,"y":-6.9},{"c":10,"x":-0.2,"y":-6.3},{"c":10,"x":0.1,"y":-6.8},{"c":8,"x":0.5,"y":-6.1},{"c":8,"x":0.8,"y":-6.7},{"c":8,"x":0.4,"y":-6.5},{"c":1,"x":-1.8,"y":-9},{"c":1,"x":3.3,"y":-7.6},{"c":9,"x":3.4,"y":-13.2},{"c":9,"x":3.7,"y":-13.6},{"c":9,"x":4,"y":-14},{"c":9,"x":4.3,"y":-14.5},{"c":9,"x":4.7,"y":-14.7},{"c":9,"x":5.1,"y":-14.4},{"c":9,"x":5.5,"y":-13.9},{"c":9,"x":4.2,"y":-15},{"c":9,"x":4.9,"y":-15},{"c":14,"x":7.9,"y":-6.5},{"c":14,"x":8.2,"y":-6.3},{"c":14,"x":8.6,"y":-6.4},{"c":14,"x":8.6,"y":-5.9},{"c":14,"x":8.8,"y":-6.7},{"c":0,"x":3.5,"y":7.6},{"c":0,"x":4,"y":7.5}],
"e":[{"c":1,"x":-8.4,"y":10.2},{"c":1,"x":-7.7,"y":10.2},{"c":1,"x":-7,"y":9.9},{"c":1,"x":-8.2,"y":9.4},{"c":1,"x":-7.5,"y":9.3},{"c":1,"x":-6.8,"y":9.3},{"c":1,"x":-6.1,"y":9.3},{"c":1,"x":-5.4,"y":9.1},{"c":1,"x":-8.1,"y":8.5},{"c":1,"x":-7.4,"y":8.5},{"c":1,"x":-6.7,"y":8.5},{"c":1,"x":-6,"y":8.5},{"c":1,"x":-5.3,"y":8.5},{"c":1,"x":-4.6,"y":8.4},{"c":1,"x":-8.5,"y":7.6},{"c":1,"x":-7.8,"y":7.6},{"c":1,"x":-7.1,"y":7.6},{"c":1,"x":-6.4,"y":7.7},{"c":1,"x":-5.7,"y":7.7},{"c":1,"x":-5,"y":7.7},{"c":1,"x":-4.3,"y":7.6},{"c":1,"x":-9,"y":7.2},{"c":1,"x":-8,"y":6.8},{"c":1,"x":-7.3,"y":6.8},{"c":1,"x":-6.7,"y":6.8},{"c":7,"x":-5.9,"y":6.9},{"c":7,"x":-5.3,"y":7},{"c":7,"x":-5.7,"y":6.1},{"c":7,"x":-5.1,"y":6.1},{"c":5,"x":0.6,"y":8.8},{"c":5,"x":1.3,"y":8.9},{"c":5,"x":0.5,"y":8},{"c":5,"x":1.2,"y":8.1},{"c":5,"x":1.9,"y":8},{"c":5,"x":0.8,"y":7.2},{"c":5,"x":1.6,"y":7.3},{"c":5,"x":0.3,"y":6.5},{"c":5,"x":1.1,"y":6.7},{"c":5,"x":2,"y":6.8},{"c":10,"x":-1.3,"y":7.2},{"c":10,"x":-0.7,"y":7.2},{"c":2,"x":-1.4,"y":2.4},{"c":2,"x":-0.7,"y":2.4},{"c":2,"x":-0.1,"y":2.2},{"c":2,"x":-2.1,"y":1.7},{"c":2,"x":-1.4,"y":1.6},{"c":2,"x":-0.7,"y":1.6},{"c":2,"x":0,"y":1.6},{"c":2,"x":-3.3,"y":0.8},{"c":2,"x":-2.6,"y":0.8},{"c":2,"x":-1.9,"y":0.8},{"c":2,"x":-1.2,"y":0.8},{"c":2,"x":-0.5,"y":0.8},{"c":2,"x":-2.2,"y":0.1},{"c":2,"x":-1.5,"y":0},{"c":2,"x":-0.8,"y":0.1},{"c":2,"x":-3.3,"y":-0.6},{"c":2,"x":-2.6,"y":-0.6},{"c":2,"x":-1.9,"y":-0.7},{"c":2,"x":-1.2,"y":-0.7},{"c":6,"x":2.9,"y":-0.9},{"c":6,"x":3.5,"y":-0.9},{"c":6,"x":3,"y":-1.6},{"c":6,"x":3.5,"y":-1.6},{"c":3,"x":10.1,"y":1.5},{"c":3,"x":10.7,"y":1.6},{"c":3,"x":8.7,"y":0.9},{"c":3,"x":10.2,"y":0.8},{"c":3,"x":10.9,"y":0.8},{"c":3,"x":9.8,"y":0},{"c":3,"x":10.5,"y":0},{"c":3,"x":11.1,"y":0},{"c":3,"x":9.3,"y":-0.8},{"c":3,"x":10,"y":-0.8},{"c":3,"x":10.7,"y":-0.8},{"c":3,"x":11.3,"y":-0.8},{"c":3,"x":9.5,"y":-1.7},{"c":3,"x":10.2,"y":-1.7},{"c":3,"x":10.9,"y":-1.7},{"c":3,"x":9.9,"y":-2.6},{"c":3,"x":10.6,"y":-2.6},{"c":3,"x":11.2,"y":-2.6},{"c":4,"x":11.4,"y":2},{"c":4,"x":11.7,"y":1.2},{"c":4,"x":12.2,"y":1},{"c":4,"x":11.7,"y":0.3},{"c":4,"x":12.3,"y":0.2},{"c":4,"x":12.7,"y":-0.2},{"c":4,"x":11.9,"y":-0.6},{"c":4,"x":12.5,"y":-0.9},{"c":4,"x":11.8,"y":-1.5},{"c":4,"x":12.3,"y":-1.6},{"c":4,"x":11.6,"y":-2.3},{"c":4,"x":12,"y":-2.4},{"c":0,"x":-5.2,"y":-6.8},{"c":0,"x":-4.6,"y":-6.9},{"c":0,"x":-5.8,"y":-7.5},{"c":0,"x":-5.1,"y":-7.5},{"c":0,"x":-4.4,"y":-7.5},{"c":0,"x":-3.7,"y":-7.6},{"c":0,"x":-2,"y":-7.6},{"c":0,"x":-5.3,"y":-8.2},{"c":0,"x":-4.6,"y":-8.2},{"c":0,"x":-3.9,"y":-8.2},{"c":0,"x":-3.2,"y":-8.2},{"c":0,"x":-2.5,"y":-8.2},{"c":0,"x":-1.8,"y":-8.2},{"c":0,"x":-1.2,"y":-8.3},{"c":0,"x":-4.9,"y":-9},{"c":0,"x":-4.2,"y":-9},{"c":0,"x":-3.5,"y":-9},{"c":0,"x":-2.8,"y":-9},{"c":0,"x":-2.1,"y":-9},{"c":0,"x":-1.4,"y":-9},{"c":0,"x":-0.7,"y":-9},{"c":0,"x":-4.4,"y":-9.8},{"c":0,"x":-3.7,"y":-9.8},{"c":0,"x":-3,"y":-9.8},{"c":0,"x":-2.3,"y":-9.8},{"c":0,"x":-1.6,"y":-9.8},{"c":0,"x":-0.9,"y":-9.8},{"c":0,"x":-0.2,"y":-9.8},{"c":0,"x":-3.8,"y":-10.6},{"c":0,"x":-3.1,"y":-10.6},{"c":0,"x":-2.4,"y":-10.6},{"c":0,"x":-1.7,"y":-10.6},{"c":0,"x":-1,"y":-10.5},{"c":0,"x":-3,"y":-11.1},{"c":0,"x":-2.4,"y":-11.1},{"c":0,"x":-1.8,"y":-11.1}],
"es":[{"c":1,"x":-3.8,"y":7.4},{"c":1,"x":-3.5,"y":7.5},{"c":1,"x":-9.5,"y":7},{"c":5,"x":2.5,"y":6.6},{"c":5,"x":2.9,"y":6.6},{"c":5,"x":2,"y":7.9},{"c":7,"x":-5.4,"y":5.4},{"c":7,"x":-4.8,"y":5.5},{"c":7,"x":-4.6,"y":6.2},{"c":7,"x":-6.3,"y":6.3},{"c":10,"x":-2,"y":7.1},{"c":10,"x":-1.7,"y":7.4},{"c":10,"x":-0.9,"y":6.6},{"c":10,"x":-0.2,"y":7.5},{"c":8,"x":-3.3,"y":4.5},{"c":8,"x":-3,"y":4},{"c":8,"x":-2.8,"y":3.8},{"c":8,"x":-2.5,"y":3.6},{"c":8,"x":-2.4,"y":4.2},{"c":8,"x":-2,"y":3.4},{"c":8,"x":-1.7,"y":3.2},{"c":8,"x":-1.4,"y":4.6},{"c":8,"x":-0.9,"y":4.2},{"c":8,"x":-0.7,"y":3.8},{"c":8,"x":-0.4,"y":5},{"c":6,"x":3.2,"y":0.5},{"c":6,"x":3.2,"y":0},{"c":6,"x":2.4,"y":-1},{"c":6,"x":4,"y":-1.1},{"c":6,"x":4.5,"y":-0.9},{"c":6,"x":5,"y":-0.8},{"c":6,"x":5.4,"y":-0.7},{"c":6,"x":2.7,"y":-2.2},{"c":6,"x":3.2,"y":-2.1},{"c":6,"x":2.4,"y":-1.6},{"c":3,"x":7.8,"y":1.3},{"c":3,"x":8.2,"y":1.3},{"c":3,"x":8.6,"y":1.2},{"c":3,"x":9.1,"y":0.7},{"c":3,"x":9.3,"y":0.1},{"c":3,"x":8.6,"y":-1},{"c":3,"x":9.4,"y":-2.5},{"c":12,"x":7.5,"y":-0.8},{"c":12,"x":7.9,"y":-0.8},{"c":12,"x":8.3,"y":-0.6},{"c":12,"x":8.6,"y":-0.4},{"c":12,"x":8.9,"y":-0.1},{"c":12,"x":9.3,"y":0.3},{"c":9,"x":8.4,"y":-2.3},{"c":9,"x":-7.7,"y":0.8},{"c":9,"x":-0.9,"y":-5.5},{"c":9,"x":-0.9,"y":-5},{"c":9,"x":-0.5,"y":-5.3},{"c":9,"x":-0.1,"y":-5.4},{"c":9,"x":0.4,"y":-5.6},{"c":9,"x":0.9,"y":-5.8},{"c":9,"x":1.2,"y":-6},{"c":9,"x":0.8,"y":-4.7},{"c":9,"x":0.4,"y":-4.8},{"c":9,"x":-1,"y":-6.2},{"c":11,"x":-0.8,"y":-2.4},{"c":11,"x":-0.9,"y":-3.3},{"c":11,"x":-0.6,"y":-2.7},{"c":11,"x":-0.9,"y":-2.9},{"c":11,"x":-0.7,"y":-3.5},{"c":11,"x":-0.7,"y":-2},{"c":11,"x":-1,"y":-1.5},{"c":13,"x":-8.9,"y":-2.6},{"c":13,"x":-8.6,"y":-2.4},{"c":13,"x":-8.3,"y":-2.2},{"c":13,"x":-8,"y":-3.2},{"c":13,"x":-8.5,"y":-2.9},{"c":14,"x":-5.9,"y":0.1},{"c":14,"x":-5.9,"y":-0.4},{"c":14,"x":-6,"y":-0.9},{"c":14,"x":-5.5,"y":-0.8},{"c":14,"x":-5,"y":-1.1},{"c":14,"x":-4.6,"y":-1.5},{"c":15,"x":2.6,"y":-5},{"c":15,"x":2.9,"y":-5.1},{"c":15,"x":2.8,"y":-4.6},{"c":8,"x":-1.4,"y":-7.2},{"c":8,"x":-1.1,"y":-6.6},{"c":8,"x":-1.6,"y":-7.7},{"c":0,"x":0.6,"y":-10},{"c":0,"x":-5.8,"y":-6.9}],
"f":[{"c":2,"x":-11.5,"y":1.9},{"c":2,"x":-10.9,"y":1.9},{"c":2,"x":-10.3,"y":1.9},{"c":2,"x":-12,"y":1.1},{"c":2,"x":-11.4,"y":1.1},{"c":2,"x":-10.8,"y":1.1},{"c":2,"x":-10.2,"y":1.1},{"c":2,"x":-9.6,"y":1},{"c":2,"x":-12.2,"y":0.3},{"c":2,"x":-11.6,"y":0.3},{"c":2,"x":-11,"y":0.3},{"c":2,"x":-10.4,"y":0.3},{"c":2,"x":-9.8,"y":0.3},{"c":2,"x":-9.2,"y":0.3},{"c":2,"x":-12.3,"y":-0.5},{"c":2,"x":-11.7,"y":-0.6},{"c":2,"x":-11.1,"y":-0.6},{"c":2,"x":-10.5,"y":-0.6},{"c":2,"x":-9.9,"y":-0.5},{"c":2,"x":-11.2,"y":-1.2},{"c":2,"x":-10.6,"y":-1.2},{"c":2,"x":-10.1,"y":-1.1},{"c":1,"x":0.4,"y":7.4},{"c":1,"x":1,"y":7.2},{"c":1,"x":2.7,"y":7.3},{"c":1,"x":3.2,"y":7.3},{"c":1,"x":0,"y":6.6},{"c":1,"x":0.7,"y":6.6},{"c":1,"x":1.3,"y":6.6},{"c":1,"x":1.9,"y":6.6},{"c":1,"x":2.6,"y":6.6},{"c":1,"x":3.2,"y":6.6},{"c":1,"x":-0.2,"y":5.9},{"c":1,"x":0.4,"y":5.9},{"c":1,"x":1.1,"y":5.9},{"c":1,"x":1.7,"y":5.9},{"c":1,"x":2.4,"y":5.9},{"c":1,"x":3,"y":5.9},{"c":1,"x":3.5,"y":5.9},{"c":1,"x":-0.2,"y":5},{"c":1,"x":0.4,"y":5},{"c":1,"x":1,"y":5},{"c":1,"x":1.7,"y":5},{"c":1,"x":2.3,"y":5.1},{"c":1,"x":0,"y":4.2},{"c":1,"x":0.6,"y":4.2},{"c":1,"x":1.2,"y":4.2},{"c":1,"x":0,"y":3.6},{"c":1,"x":0.6,"y":3.6},{"c":4,"x":5.3,"y":4.9},{"c":4,"x":6,"y":5.2},{"c":4,"x":6.7,"y":5.2},{"c":4,"x":7.4,"y":5.2},{"c":4,"x":7.9,"y":4.8},{"c":4,"x":6.1,"y":4.4},{"c":4,"x":6.8,"y":4.4},{"c":4,"x":7.5,"y":4.3},{"c":4,"x":8,"y":3.6},{"c":0,"x":2.4,"y":0},{"c":0,"x":3,"y":-0.1},{"c":0,"x":2.9,"y":-0.7},{"c":0,"x":3.5,"y":-0.7},{"c":0,"x":4.1,"y":-0.7},{"c":0,"x":2.3,"y":-1.5},{"c":0,"x":2.9,"y":-1.5},{"c":0,"x":3.5,"y":-1.5},{"c":0,"x":4.1,"y":-1.5},{"c":0,"x":4.7,"y":-1.5},{"c":0,"x":5.2,"y":-1.6},{"c":0,"x":2,"y":-2.3},{"c":0,"x":2.7,"y":-2.3},{"c":0,"x":3.3,"y":-2.3},{"c":0,"x":3.9,"y":-2.3},{"c":0,"x":4.5,"y":-2.3},{"c":0,"x":5.1,"y":-2.3},{"c":0,"x":5.7,"y":-2.4},{"c":0,"x":3.5,"y":-3.1},{"c":0,"x":4.1,"y":-3.1},{"c":0,"x":4.7,"y":-3.1},{"c":0,"x":5.3,"y":-3.1},{"c":0,"x":5.9,"y":-3.2},{"c":0,"x":6.5,"y":-3.2},{"c":0,"x":7.1,"y":-3.3},{"c":0,"x":7.6,"y":-3},{"c":0,"x":4,"y":-3.8},{"c":0,"x":6.9,"y":-3.9},{"c":3,"x":-1.8,"y":-9},{"c":3,"x":-1.2,"y":-9.1},{"c":3,"x":-0.6,"y":-9},{"c":3,"x":0,"y":-9.2},{"c":3,"x":0.6,"y":-9},{"c":3,"x":-1,"y":-9.8},{"c":3,"x":-0.4,"y":-9.9},{"c":3,"x":0.2,"y":-9.9},{"c":3,"x":0.8,"y":-9.9},{"c":3,"x":1.4,"y":-10.2},{"c":3,"x":-0.3,"y":-10.6},{"c":3,"x":0.3,"y":-10.7},{"c":3,"x":0.9,"y":-10.6},{"c":3,"x":1.5,"y":-10.6}],
"fs":[{"c":1,"x":-0.6,"y":6.1},{"c":1,"x":3.7,"y":6.4},{"c":1,"x":0.3,"y":8},{"c":7,"x":2.5,"y":4.9},{"c":7,"x":2.3,"y":4},{"c":7,"x":2.9,"y":4.3},{"c":7,"x":1.8,"y":3.4},{"c":7,"x":2.2,"y":3.3},{"c":7,"x":2.6,"y":3.5},{"c":7,"x":3,"y":3.5},{"c":7,"x":3.2,"y":2.6},{"c":7,"x":3.4,"y":4.8},{"c":7,"x":3.1,"y":2.9},{"c":7,"x":2.8,"y":4},{"c":12,"x":1.6,"y":2.8},{"c":12,"x":1.9,"y":2.5},{"c":12,"x":1.6,"y":2.2},{"c":12,"x":1.9,"y":2.1},{"c":6,"x":0.4,"y":2.4},{"c":6,"x":0.4,"y":2.9},{"c":4,"x":3.9,"y":4.9},{"c":4,"x":4.4,"y":5},{"c":4,"x":4.9,"y":5},{"c":4,"x":5.6,"y":3.9},{"c":4,"x":5.9,"y":3.5},{"c":4,"x":6.5,"y":3.7},{"c":4,"x":5.6,"y":3},{"c":4,"x":5.2,"y":2.4},{"c":4,"x":4.9,"y":1.9},{"c":4,"x":8.3,"y":3.3},{"c":4,"x":6.7,"y":5.7},{"c":14,"x":7.1,"y":2.3},{"c":14,"x":7.3,"y":2},{"c":14,"x":7,"y":2.7},{"c":5,"x":-3,"y":0.4},{"c":5,"x":-2.6,"y":0.5},{"c":5,"x":-2.2,"y":0.5},{"c":5,"x":-2,"y":1.2},{"c":5,"x":-1.8,"y":1.7},{"c":5,"x":-2.4,"y":0},{"c":5,"x":-1.5,"y":1},{"c":5,"x":-1.5,"y":-0.1},{"c":5,"x":-1.9,"y":0.3},{"c":6,"x":-0.2,"y":-2},{"c":6,"x":0.2,"y":-2.1},{"c":6,"x":0.6,"y":-1.9},{"c":6,"x":1,"y":-2.1},{"c":6,"x":1.4,"y":-2.2},{"c":6,"x":1.7,"y":-1.9},{"c":6,"x":0.2,"y":-2.6},{"c":6,"x":0.1,"y":-3.1},{"c":6,"x":-1.3,"y":-3.8},{"c":9,"x":-5.6,"y":-7.7},{"c":9,"x":-5.2,"y":-7.3},{"c":9,"x":-5,"y":-7.5},{"c":9,"x":-5.5,"y":-8.1},{"c":9,"x":-5.3,"y":-6.7},{"c":9,"x":-5,"y":-6.4},{"c":9,"x":-5.8,"y":-7.5},{"c":9,"x":-4.7,"y":-7.2},{"c":10,"x":-3.9,"y":4.5},{"c":10,"x":-3.6,"y":4.8},{"c":10,"x":-3.3,"y":4.7},{"c":10,"x":-2.9,"y":4.6},{"c":10,"x":-2.5,"y":4.6},{"c":11,"x":-5.4,"y":-4.4},{"c":11,"x":-5.1,"y":-4.5},{"c":11,"x":-5.3,"y":-5.2},{"c":11,"x":-5.4,"y":-3.7},{"c":11,"x":-4.8,"y":-4.5},{"c":11,"x":-5.2,"y":-4},{"c":13,"x":0,"y":11.7},{"c":13,"x":-0.1,"y":11.9},{"c":12,"x":-3.9,"y":-2.3},{"c":8,"x":-9.6,"y":-1.7},{"c":8,"x":-9.1,"y":-1.3},{"c":8,"x":-8.9,"y":-1},{"c":8,"x":-9.1,"y":-2},{"c":8,"x":-9.5,"y":-2.2},{"c":8,"x":-8.8,"y":-2.3},{"c":8,"x":-9,"y":-2.6},{"c":8,"x":-8.5,"y":-2.6},{"c":8,"x":-8.1,"y":-2.6},{"c":8,"x":-8.7,"y":-1.6},{"c":3,"x":0.8,"y":-8.2},{"c":3,"x":0.6,"y":-8.5},{"c":3,"x":1,"y":-8.6},{"c":3,"x":-2.3,"y":-8.9},{"c":2,"x":-12.7,"y":-0.4},{"c":2,"x":-12.6,"y":0.2}],
"la":[{"t":"0","x":-1.1,"y":7.3},{"t":"5","x":0.6,"y":3.9},{"t":"3","x":8.9,"y":1.6},{"t":"6","x":7.2,"y":1.9},{"t":"8","x":9.8,"y":-0.7},{"t":"7","x":-3,"y":0.1},{"t":"10","x":1.8,"y":-0.2},{"t":"13","x":-9,"y":-0.1},{"t":"14","x":-6.3,"y":0.4},{"t":"12","x":-5,"y":5.9},{"t":"16","x":-11,"y":5},{"t":"11","x":-1.4,"y":-3.3},{"t":"1","x":0.2,"y":-4.9},{"t":"2","x":-9.8,"y":-5.4},{"t":"15","x":4.3,"y":-7.5},{"t":"9","x":0.1,"y":-11.4},{"t":"4","x":1.6,"y":-12.8}],
"lb":[{"t":"1","x":2.2,"y":8.9},{"t":"10","x":4,"y":6.7},{"t":"3","x":-4.6,"y":5.2},{"t":"6","x":10.2,"y":5.9},{"t":"13","x":9.8,"y":3.9},{"t":"12","x":6.8,"y":2.5},{"t":"7","x":4,"y":0.8},{"t":"14","x":10,"y":1.3},{"t":"15","x":8.7,"y":-1},{"t":"17","x":-1.2,"y":3.7},{"t":"16","x":-1.9,"y":-1},{"t":"18","x":-2.7,"y":-4},{"t":"11","x":-9.3,"y":-0.6},{"t":"8","x":-9.3,"y":-2},{"t":"0","x":-8.7,"y":-3.9},{"t":"9","x":-4.9,"y":-3.3},{"t":"2","x":4.2,"y":-5},{"t":"4","x":1.6,"y":-6},{"t":"5","x":2.4,"y":-8.2}],
"lc":[{"t":"2","x":-4.2,"y":7.7},{"t":"1","x":2.4,"y":8},{"t":"1","x":7.8,"y":3.7},{"t":"10","x":6.3,"y":1.6},{"t":"13","x":9.4,"y":1.8},{"t":"11","x":1.9,"y":3.8},{"t":"6","x":-10.6,"y":-0.7},{"t":"17","x":-9.1,"y":-0.5},{"t":"4","x":-8.6,"y":-2.7},{"t":"3","x":-8,"y":-3.3},{"t":"16","x":-6.2,"y":-1.6},{"t":"15","x":-4,"y":0.6},{"t":"14","x":-2.2,"y":-0.2},{"t":"9","x":0.5,"y":0},{"t":"7","x":3.2,"y":-4},{"t":"8","x":-0.1,"y":-4.7},{"t":"0","x":2.1,"y":-7},{"t":"12","x":10.7,"y":-4},{"t":"18","x":-3.2,"y":-9.9}],
"ld":[{"t":"0","x":-2.9,"y":7.3},{"t":"6","x":-5.6,"y":5.4},{"t":"13","x":0.5,"y":6.6},{"t":"8","x":-1,"y":3.7},{"t":"7","x":-2,"y":2.4},{"t":"5","x":6.5,"y":6.2},{"t":"11","x":10.2,"y":2.7},{"t":"12","x":8.2,"y":0.3},{"t":"3","x":11,"y":0},{"t":"2","x":-9.1,"y":-1.9},{"t":"20","x":-6.9,"y":-2},{"t":"16","x":-7.2,"y":-4.2},{"t":"15","x":-3.4,"y":-0.7},{"t":"4","x":-2.3,"y":-2.3},{"t":"17","x":-1.3,"y":-4.5},{"t":"18","x":3,"y":1},{"t":"19","x":4.3,"y":-1.8},{"t":"21","x":2.4,"y":-3.9},{"t":"10","x":-0.8,"y":-6.6},{"t":"1","x":1.3,"y":-8.3},{"t":"9","x":4.3,"y":-14.5},{"t":"14","x":8.7,"y":-6.4}],
"le":[{"t":"1","x":-7,"y":8.5},{"t":"7","x":-5.5,"y":6},{"t":"5","x":1.2,"y":7.8},{"t":"10","x":-1.1,"y":7.2},{"t":"8","x":-2.3,"y":3.8},{"t":"2","x":-1.6,"y":1.2},{"t":"6","x":3.3,"y":-1.3},{"t":"14","x":-5.7,"y":-0.9},{"t":"13","x":-8.8,"y":-2.5},{"t":"11","x":-0.9,"y":-3.1},{"t":"9","x":-0.9,"y":-5.6},{"t":"15","x":2.7,"y":-5},{"t":"12","x":8,"y":-0.7},{"t":"3","x":10.5,"y":-0.4},{"t":"4","x":11.9,"y":-0.2},{"t":"0","x":-3.2,"y":-9.6}],
"lf":[{"t":"2","x":-11.2,"y":0.4},{"t":"8","x":-9,"y":-2.2},{"t":"1","x":1.2,"y":5.8},{"t":"7","x":2.8,"y":3.5},{"t":"12","x":1.8,"y":2.3},{"t":"4","x":7,"y":4.6},{"t":"14","x":7.2,"y":2},{"t":"5","x":-2.5,"y":0.4},{"t":"6","x":0.2,"y":-2.3},{"t":"0","x":4.3,"y":-2.3},{"t":"3","x":0.2,"y":-10},{"t":"9","x":-5.7,"y":-7.6},{"t":"10","x":-3.6,"y":4.6},{"t":"11","x":-5.4,"y":-4.5},{"t":"13","x":0,"y":11.7}],
"ta":[{"t":"12 wk","x":-11.77,"y":9.87}],"tb":[{"t":"12 m","x":-11.24,"y":10.15}],"tc":[{"t":"16 m","x":-11.47,"y":9.36}],
"g1":[{"t":"Pcgf5","x":-15.71,"y":-7.93}],"g1s":[{"t":"+/+","x":-16.4,"y":-1.11}],"g2":[{"t":"Pcgf5","x":-15.98,"y":-8.47}],"g2s":[{"t":"-/-","x":-16.78,"y":-1.35}],
"cap":[{"t":"図2. snRNA-seq解析結果","x":-17.46,"y":-22.82}]
},
"resolve":{"scale":{"x":"independent","y":"independent","color":"independent"},"axis":{"x":"independent","y":"independent"},"legend":{"color":"independent"}},
"layer":[
{"data":{"name":"frame"},"mark":{"type":"rect","filled":false,"stroke":"#333333","strokeWidth":2},"encoding":{"x":{"field":"left","type":"quantitative","axis":null,"scale":{"domain":[0,1],"range":[5,1035]}},"x2":{"field":"right"},"y":{"field":"bottom","type":"quantitative","axis":null,"scale":{"domain":[0,1],"range":[500,4]}},"y2":{"field":"top"}}},
{"data":{"name":"frame"},"mark":{"type":"rect","filled":false,"stroke":"#222222","strokeWidth":1},"encoding":{"x":{"field":"left","type":"quantitative","axis":null,"scale":{"domain":[0,1],"range":[9.5,986.5]}},"x2":{"field":"right"},"y":{"field":"bottom","type":"quantitative","axis":null,"scale":{"domain":[0,1],"range":[225.5,7]}},"y2":{"field":"top"}}},
{"data":{"name":"frame"},"mark":{"type":"rect","filled":false,"stroke":"#f02020","strokeWidth":1},"encoding":{"x":{"field":"left","type":"quantitative","axis":null,"scale":{"domain":[0,1],"range":[9.5,986.5]}},"x2":{"field":"right"},"y":{"field":"bottom","type":"quantitative","axis":null,"scale":{"domain":[0,1],"range":[445,226.5]}},"y2":{"field":"top"}}},
{"encoding":{"x":{"field":"x","type":"quantitative","scale":{"domain":[-12.23,12.33],"range":[70.3,319],"nice":false,"zero":false},"axis":{"orient":"bottom","offset":-282,"values":[-10,-5,0,5,10],"title":"UMAP_1"}},"y":{"field":"y","type":"quantitative","scale":{"domain":[-15.05,10.55],"range":[206,22],"nice":false,"zero":false},"axis":{"orient":"left","offset":-70.3,"values":[-15,-10,-5,0,5,10],"title":"UMAP_2"}}},
"layer":[
{"data":{"name":"a"},"mark":{"type":"circle","size":58,"opacity":1},"encoding":{"color":{"field":"c","type":"nominal","scale":{"domain":[0,1,2,3,4,5,6,7,8,9,10,11,12,13,14,15,16],"range":["#F8766D","#E7851E","#D09400","#B2A100","#89AC00","#45B500","#00BC51","#00C087","#00C0B2","#00BCD6","#00B3F2","#29A3FF","#9C8DFF","#D277FF","#F166E8","#FF61C7","#FF689E"]},"legend":{"title":null,"orient":"none","legendX":326.5,"legendY":50}}}},
{"data":{"name":"as"},"mark":{"type":"circle","size":12,"opacity":1},"encoding":{"color":{"field":"c","type":"nominal"}}},
{"data":{"name":"la"},"mark":{"type":"text","fontSize":6.5,"color":"#222222"},"encoding":{"text":{"field":"t"}}},
{"data":{"name":"ta"},"mark":{"type":"text","fontSize":18,"align":"left","color":"#000000"},"encoding":{"text":{"field":"t"}}},
{"data":{"name":"g1"},"mark":{"type":"text","fontSize":18,"fontWeight":"bold","fontStyle":"italic","angle":270,"align":"left","baseline":"alphabetic","color":"#000000"},"encoding":{"text":{"field":"t"}}},
{"data":{"name":"g1s"},"mark":{"type":"text","fontSize":11.5,"fontWeight":"bold","fontStyle":"italic","angle":270,"align":"left","baseline":"alphabetic","color":"#000000"},"encoding":{"text":{"field":"t"}}}
]},
{"encoding":{"x":{"field":"x","type":"quantitative","scale":{"domain":[-12.56,12.94],"range":[382,631.7],"nice":false,"zero":false},"axis":{"orient":"bottom","offset":-282,"values":[-10,-5,0,5,10],"title":"UMAP_1"}},"y":{"field":"y","type":"quantitative","scale":{"domain":[-10,11.58],"range":[206,20.7],"nice":false,"zero":false},"axis":{"orient":"left","offset":-382,"values":[-10,-5,0,5,10],"title":"UMAP_2"}}},
"layer":[
{"data":{"name":"b"},"mark":{"type":"circle","size":58,"opacity":1},"encoding":{"color":{"field":"c","type":"nominal","scale":{"domain":[0,1,2,3,4,5,6,7,8,9,10,11,12,13,14,15,16,17,18],"range":["#F8766D","#EB8335","#DA8F00","#C49A00","#A9A400","#87AC00","#53B400","#00BD5C","#00C08F","#00C0B2","#00BDD2","#00B6EB","#00A8FF","#8195FF","#BB81FF","#DF70F8","#F763E0","#FF61C3","#FF6A9A"]},"legend":{"title":null,"orient":"none","legendX":638.5,"legendY":41}}}},
{"data":{"name":"bs"},"mark":{"type":"circle","size":12,"opacity":1},"encoding":{"color":{"field":"c","type":"nominal"}}},
{"data":{"name":"lb"},"mark":{"type":"text","fontSize":6.5,"color":"#222222"},"encoding":{"text":{"field":"t"}}},
{"data":{"name":"tb"},"mark":{"type":"text","fontSize":18,"align":"left","color":"#000000"},"encoding":{"text":{"field":"t"}}}
]},
{"encoding":{"x":{"field":"x","type":"quantitative","scale":{"domain":[-12.73,12.19],"range":[694,944],"nice":false,"zero":false},"axis":{"orient":"bottom","offset":-282,"values":[-10,-5,0,5,10],"title":"UMAP_1"}},"y":{"field":"y","type":"quantitative","scale":{"domain":[-10.87,10.77],"range":[206,20.7],"nice":false,"zero":false},"axis":{"orient":"left","offset":-694,"values":[-10,-5,0,5,10],"title":"UMAP_2"}}},
"layer":[
{"data":{"name":"c"},"mark":{"type":"circle","size":58,"opacity":1},"encoding":{"color":{"field":"c","type":"nominal","scale":{"domain":[0,1,2,3,4,5,6,7,8,9,10,11,12,13,14,15,16,17,18],"range":["#F8766D","#EB8335","#DA8F00","#C49A00","#A9A400","#87AC00","#53B400","#00BD5C","#00C08F","#00C0B2","#00BDD2","#00B6EB","#00A8FF","#8195FF","#BB81FF","#DF70F8","#F763E0","#FF61C3","#FF6A9A"]},"legend":{"title":null,"orient":"none","legendX":951.5,"legendY":41}}}},
{"data":{"name":"cs"},"mark":{"type":"circle","size":12,"opacity":1},"encoding":{"color":{"field":"c","type":"nominal"}}},
{"data":{"name":"lc"},"mark":{"type":"text","fontSize":6.5,"color":"#222222"},"encoding":{"text":{"field":"t"}}},
{"data":{"name":"tc"},"mark":{"type":"text","fontSize":18,"align":"left","color":"#000000"},"encoding":{"text":{"field":"t"}}}
]},
{"encoding":{"x":{"field":"x","type":"quantitative","scale":{"domain":[-12.14,13.78],"range":[69.7,297.3],"nice":false,"zero":false},"axis":{"orient":"bottom","offset":-66,"values":[-10,-5,0,5,10],"title":"UMAP_1"}},"y":{"field":"y","type":"quantitative","scale":{"domain":[-16.3,10.71],"range":[422,236],"nice":false,"zero":false},"axis":{"orient":"left","offset":-69.7,"values":[-15,-10,-5,0,5,10],"title":"UMAP_2"}}},
"layer":[
{"data":{"name":"d"},"mark":{"type":"circle","size":58,"opacity":1},"encoding":{"color":{"field":"c","type":"nominal","scale":{"domain":[0,1,2,3,4,5,6,7,8,9,10,11,12,13,14,15,16,17,18,19,20,21],"range":["#F8766D","#ED813E","#E18A00","#D19300","#BE9C00","#A8A300","#8CAB00","#53B400","#00BD5C","#00C085","#00C0A7","#00BFC4","#00BADE","#00B2F3","#00A5FF","#7C96FF","#B385FF","#D575FE","#EE67EB","#FB61D7","#FF62BF","#FF6C91"]},"legend":{"title":null,"orient":"none","legendX":304.5,"legendY":288,"columns":2}}}},
{"data":{"name":"ds"},"mark":{"type":"circle","size":12,"opacity":1},"encoding":{"color":{"field":"c","type":"nominal"}}},
{"data":{"name":"ld"},"mark":{"type":"text","fontSize":6.5,"color":"#222222"},"encoding":{"text":{"field":"t"}}},
{"data":{"name":"g2"},"mark":{"type":"text","fontSize":18,"fontWeight":"bold","fontStyle":"italic","angle":270,"align":"left","baseline":"alphabetic","color":"#000000"},"encoding":{"text":{"field":"t"}}},
{"data":{"name":"g2s"},"mark":{"type":"text","fontSize":11.5,"fontWeight":"bold","fontStyle":"italic","angle":270,"align":"left","baseline":"alphabetic","color":"#000000"},"encoding":{"text":{"field":"t"}}},
{"data":{"name":"cap"},"mark":{"type":"text","fontSize":17.5,"font":"Noto Sans CJK JP","align":"left","color":"#111111"},"encoding":{"text":{"field":"t"}}}
]},
{"encoding":{"x":{"field":"x","type":"quantitative","scale":{"domain":[-10.6,14.3],"range":[382,631.7],"nice":false,"zero":false},"axis":{"orient":"bottom","offset":-66,"values":[-10,-5,0,5,10],"title":"UMAP_1"}},"y":{"field":"y","type":"quantitative","scale":{"domain":[-12.8,11.9],"range":[422,236],"nice":false,"zero":false},"axis":{"orient":"left","offset":-382,"values":[-10,-5,0,5,10],"title":"UMAP_2"}}},
"layer":[
{"data":{"name":"e"},"mark":{"type":"circle","size":58,"opacity":1},"encoding":{"color":{"field":"c","type":"nominal","scale":{"domain":[0,1,2,3,4,5,6,7,8,9,10,11,12,13,14,15],"range":["#F8766D","#E68613","#CD9600","#ABA300","#7CAE00","#0CB702","#00BE67","#00C19A","#00BFC4","#00B8E7","#00A9FF","#8494FF","#C77CFF","#ED68ED","#FF61CC","#FF68A1"]},"legend":{"title":null,"orient":"none","legendX":638.5,"legendY":268}}}},
{"data":{"name":"es"},"mark":{"type":"circle","size":12,"opacity":1},"encoding":{"color":{"field":"c","type":"nominal"}}},
{"data":{"name":"le"},"mark":{"type":"text","fontSize":6.5,"color":"#222222"},"encoding":{"text":{"field":"t"}}}
]},
{"encoding":{"x":{"field":"x","type":"quantitative","scale":{"domain":[-13.96,9.51],"range":[694,944],"nice":false,"zero":false},"axis":{"orient":"bottom","offset":-66,"values":[-10,-5,0,5],"title":"UMAP_1"}},"y":{"field":"y","type":"quantitative","scale":{"domain":[-12.4,13.3],"range":[422,236],"nice":false,"zero":false},"axis":{"orient":"left","offset":-694,"values":[-10,-5,0,5,10],"title":"UMAP_2"}}},
"layer":[
{"data":{"name":"f"},"mark":{"type":"circle","size":58,"opacity":1},"encoding":{"color":{"field":"c","type":"nominal","scale":{"domain":[0,1,2,3,4,5,6,7,8,9,10,11,12,13,14],"range":["#F8766D","#E58700","#C99800","#A3A500","#6BB100","#00BA38","#00BF7D","#00C0AF","#00BCD8","#00B0F6","#619CFF","#B983FF","#E76BF3","#FD61D1","#FF67A4"]},"legend":{"title":null,"orient":"none","legendX":951.5,"legendY":272}}}},
{"data":{"name":"fs"},"mark":{"type":"circle","size":12,"opacity":1},"encoding":{"color":{"field":"c","type":"nominal"}}},
{"data":{"name":"lf"},"mark":{"type":"text","fontSize":6.5,"color":"#222222"},"encoding":{"text":{"field":"t"}}}
]}
]}
